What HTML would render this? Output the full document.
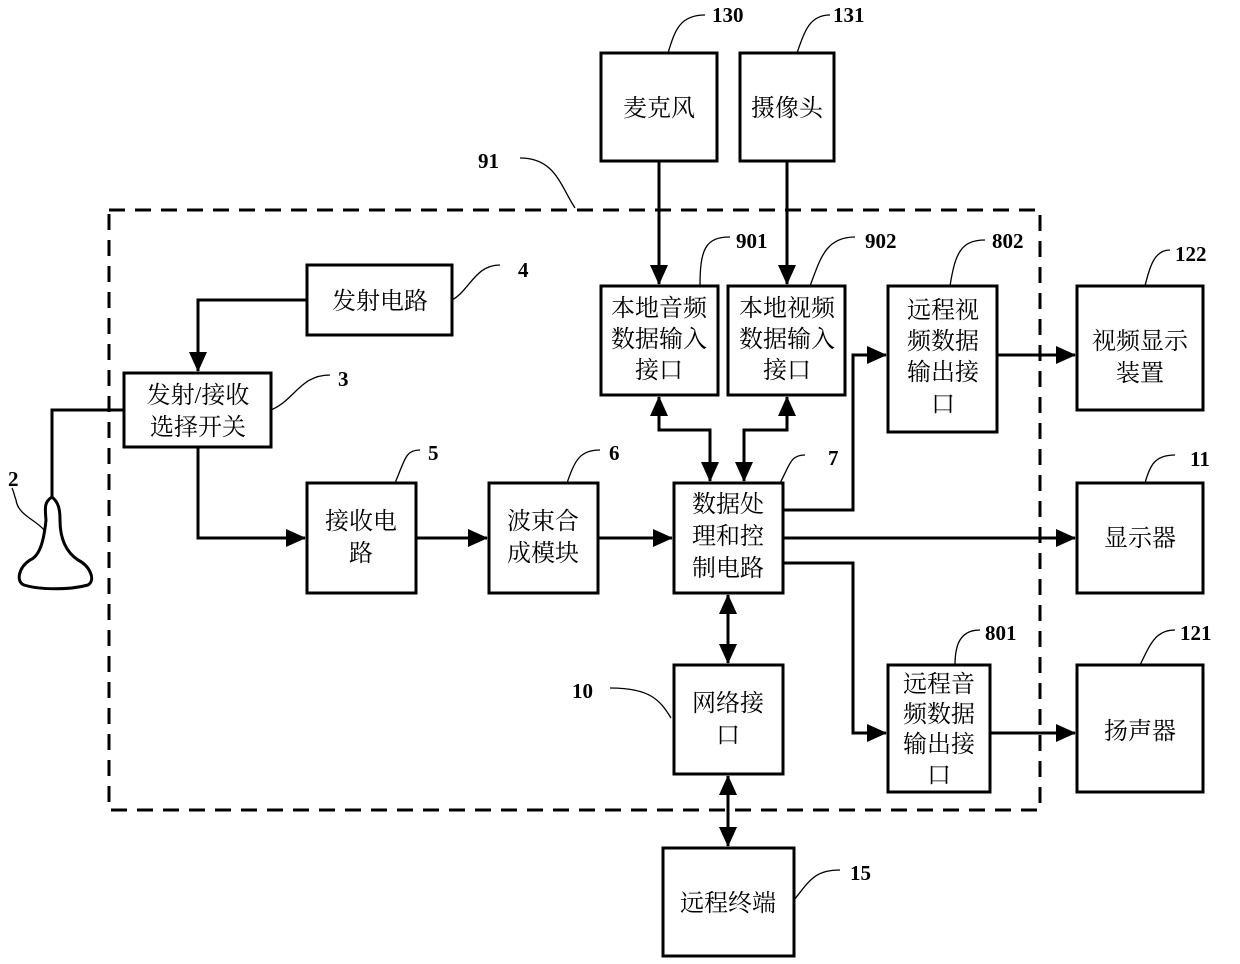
<!DOCTYPE html>
<html><head><meta charset="utf-8"><style>
html,body{margin:0;padding:0;background:#fff}
svg{display:block}
text{font-family:"Liberation Serif","Noto Serif CJK SC","Noto Sans CJK SC",serif;fill:#000}
.b{fill:#fff;stroke:#000;stroke-width:3}
.l{fill:none;stroke:#000;stroke-width:3}
.t{fill:none;stroke:#000;stroke-width:1.3}
.c{font-size:24px;text-anchor:middle}
.n{font-size:21px;font-weight:bold}
</style></head><body>
<svg width="1240" height="964" viewBox="0 0 1240 964" xmlns="http://www.w3.org/2000/svg">
<defs>
<marker id="a2" markerWidth="20" markerHeight="18" refX="19" refY="9" orient="auto-start-reverse" markerUnits="userSpaceOnUse" viewBox="0 0 20 18"><path d="M0,0 L20,9 L0,18z"/></marker></defs>
<rect x="109" y="210" width="931" height="600" fill="none" stroke="#000" stroke-width="3" stroke-dasharray="16,10"/>
<g class="l">
<path d="M307,300 H198 V371" marker-end="url(#a2)"/>
<path d="M198,447 V538 H305" marker-end="url(#a2)"/>
<path d="M416,538 H487" marker-end="url(#a2)"/>
<path d="M598,538 H672" marker-end="url(#a2)"/>
<path d="M659,161 V284" marker-end="url(#a2)"/>
<path d="M787,161 V284" marker-end="url(#a2)"/>
<path d="M659,397 V430 H710 V481" marker-start="url(#a2)" marker-end="url(#a2)"/>
<path d="M787,397 V430 H744 V481" marker-start="url(#a2)" marker-end="url(#a2)"/>
<path d="M783,510 H853 V355 H886" marker-end="url(#a2)"/>
<path d="M997,355 H1075" marker-end="url(#a2)"/>
<path d="M783,538 H1075" marker-end="url(#a2)"/>
<path d="M783,563 H853 V733 H886" marker-end="url(#a2)"/>
<path d="M990,733 H1075" marker-end="url(#a2)"/>
<path d="M728,595 V663" marker-start="url(#a2)" marker-end="url(#a2)"/>
<path d="M728,776 V846" marker-start="url(#a2)" marker-end="url(#a2)"/>
<path d="M124,410 H52 V498"/>
</g>
<g class="b">
<rect x="601" y="53" width="116" height="108"/>
<rect x="740" y="53" width="94" height="108"/>
<rect x="307" y="265" width="145" height="70"/>
<rect x="124" y="373" width="147" height="74"/>
<rect x="307" y="483" width="109" height="110"/>
<rect x="489" y="483" width="109" height="110"/>
<rect x="601" y="286" width="117" height="109"/>
<rect x="728" y="286" width="117" height="109"/>
<rect x="674" y="483" width="109" height="110"/>
<rect x="888" y="286" width="109" height="146"/>
<rect x="1077" y="286" width="126" height="124"/>
<rect x="1077" y="483" width="126" height="110"/>
<rect x="674" y="665" width="109" height="109"/>
<rect x="888" y="665" width="102" height="127"/>
<rect x="1077" y="665" width="126" height="127"/>
<rect x="663" y="848" width="131" height="108"/>
</g>
<path d="M52,497 C44,502 45,508 46,520 C44,540 40,556 30,560 C18,568 16,582 24,585 C40,590 70,590 88,585 C96,580 90,566 78,560 C66,552 60,538 60,520 C60,508 58,502 52,497z" fill="#fff" stroke="#000" stroke-width="3"/>
<path d="M44,530 C36,520 18,515 16,500 C14,495 14,492 12,488" class="t"/>
<text x="8" y="486" class="n" font-size="16">2</text>
<g class="c">
<text x="659" y="116">麦克风</text>
<text x="787" y="116">摄像头</text>
<text x="380" y="309">发射电路</text>
<text x="198" y="403">发射/接收</text><text x="198" y="435">选择开关</text>
<text x="361" y="529">接收电</text><text x="361" y="561">路</text>
<text x="543" y="529">波束合</text><text x="543" y="561">成模块</text>
<text x="659" y="316">本地音频</text><text x="659" y="347">数据输入</text><text x="659" y="378">接口</text>
<text x="787" y="316">本地视频</text><text x="787" y="347">数据输入</text><text x="787" y="378">接口</text>
<text x="728" y="512">数据处</text><text x="728" y="544">理和控</text><text x="728" y="576">制电路</text>
<text x="943" y="318">远程视</text><text x="943" y="349">频数据</text><text x="943" y="380">输出接</text><text x="943" y="412">口</text>
<text x="1140" y="349">视频显示</text><text x="1140" y="381">装置</text>
<text x="1140" y="546">显示器</text>
<text x="728" y="711">网络接</text><text x="728" y="743">口</text>
<text x="939" y="692">远程音</text><text x="939" y="722">频数据</text><text x="939" y="752">输出接</text><text x="939" y="783">口</text>
<text x="1140" y="739">扬声器</text>
<text x="728" y="911">远程终端</text>
</g>
<g class="t">
<path d="M668,53 C675,30 680,15 705,15"/>
<path d="M797,53 C805,30 810,15 830,15"/>
<path d="M575,208 C560,185 555,158 520,158"/>
<path d="M452,300 C470,290 475,265 500,265"/>
<path d="M271,410 C295,400 300,375 330,375"/>
<path d="M395,483 C405,460 405,450 420,450"/>
<path d="M567,483 C575,460 580,450 600,450"/>
<path d="M700,286 C700,250 705,237 730,237"/>
<path d="M810,286 C820,260 825,237 855,237"/>
<path d="M950,286 C955,255 960,240 985,240"/>
<path d="M1145,286 C1150,265 1155,250 1170,250"/>
<path d="M780,483 C790,465 790,455 805,455"/>
<path d="M1145,483 C1150,465 1155,455 1175,455"/>
<path d="M671,718 C660,700 650,688 610,688"/>
<path d="M955,665 C955,645 960,630 980,630"/>
<path d="M1140,665 C1150,645 1155,630 1175,630"/>
<path d="M794,900 C810,880 815,870 840,870"/>
</g>
<g class="n">
<text x="712" y="22">130</text>
<text x="833" y="22">131</text>
<text x="478" y="168">91</text>
<text x="518" y="277">4</text>
<text x="338" y="386">3</text>
<text x="428" y="460">5</text>
<text x="609" y="460">6</text>
<text x="736" y="248">901</text>
<text x="865" y="248">902</text>
<text x="992" y="248">802</text>
<text x="1175" y="261">122</text>
<text x="828" y="465">7</text>
<text x="1190" y="466">11</text>
<text x="572" y="698">10</text>
<text x="985" y="640">801</text>
<text x="1180" y="640">121</text>
<text x="850" y="880">15</text>
</g>
</svg>
</body></html>
